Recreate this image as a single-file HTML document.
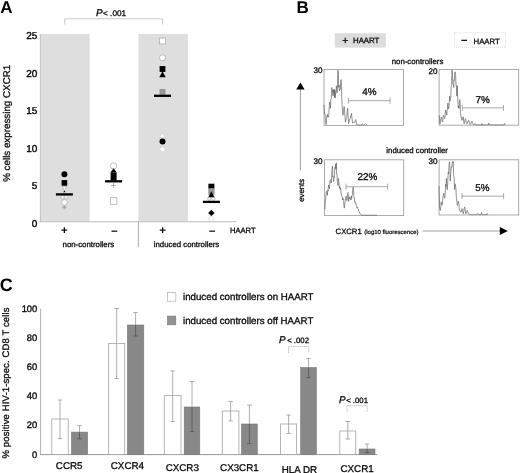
<!DOCTYPE html>
<html><head><meta charset="utf-8"><title>Figure</title>
<style>
html,body{margin:0;padding:0;background:#fff;}
body{width:520px;height:473px;overflow:hidden;}
svg{display:block;}
text{font-family:"Liberation Sans",Arial,Helvetica,sans-serif;fill:#0a0a0a;stroke:#0a0a0a;stroke-width:0.22px;text-rendering:geometricPrecision;}
.b{font-weight:bold;font-size:17px;fill:#000;stroke:none}
.t10{font-size:9.8px;stroke-width:0.3px}
.tk{font-size:10px;stroke-width:0.4px}
.t8{font-size:7.8px;stroke-width:0.3px}
.t75{font-size:8.1px;stroke-width:0.3px}
.t6{font-size:6px}
.pc{font-size:9.9px;stroke-width:0.3px}
.mk{stroke:#a8a8a8;stroke-width:0.7;fill:#fff}
.mk2{stroke:#c4c4c4;stroke-width:0.6;fill:#fff}
.fk{fill:#000}
.gk{fill:#999;stroke:#888;stroke-width:0.5}
.bar{stroke:#000;stroke-width:2.3}
.box{fill:none;stroke:#9c9c9c;stroke-width:0.85}
.hist{fill:none;stroke:#626262;stroke-width:0.68;stroke-linejoin:round}
.gate{stroke:#8c8c8c;stroke-width:0.75;fill:none}
.eb{stroke:#999;stroke-width:0.8;fill:none}
.ebd{stroke:#555;stroke-width:0.8;fill:none}
.wb{fill:#fff;stroke:#a4a4a4;stroke-width:0.8}
.gb{fill:#888;stroke:#777;stroke-width:0.6}
</style></head><body>
<svg width="520" height="473" viewBox="0 0 520 473">
<rect width="520" height="473" fill="#fff"/>

<g id="panelA">
<text class="b" x="0.3" y="12.7">A</text>
<rect x="40.5" y="33.9" width="49.1" height="187.2" fill="#dedede"/>
<rect x="138.5" y="33.9" width="49.3" height="187.2" fill="#dedede"/>
<line x1="40.4" y1="34" x2="40.4" y2="222.3" stroke="#bcbcbc" stroke-width="0.9"/>
<line x1="38.6" y1="221.8" x2="236.5" y2="221.8" stroke="#bbb" stroke-width="1.1"/>
<line x1="138.4" y1="222" x2="138.4" y2="247" stroke="#999" stroke-width="0.8"/>
<text class="tk" x="37.4" y="226.8" text-anchor="end">0</text>
<text class="tk" x="37.4" y="189.3" text-anchor="end">5</text>
<text class="tk" x="37.4" y="151.8" text-anchor="end">10</text>
<text class="tk" x="37.4" y="114.3" text-anchor="end">15</text>
<text class="tk" x="37.4" y="76.8" text-anchor="end">20</text>
<text class="tk" x="37.4" y="39.3" text-anchor="end">25</text>
<text class="t10" transform="translate(9.8,123.3) rotate(-90)" text-anchor="middle">% cells expressing CXCR1</text>
<polyline points="64.7,24.5 64.7,18.8 162.6,18.8 162.6,24.5" fill="none" stroke="#cacaca" stroke-width="1"/>
<text x="96" y="15.9" class="t10"><tspan font-style="italic" font-size="9.8px">P</tspan><tspan font-size="8.2px" dx="0.5">&lt; .001</tspan></text>
<path d="M62.0,207.2H66.8M64.4,204.8V209.6M62.7,205.5L66.1,208.9M62.7,208.9L66.1,205.5" stroke="#999" stroke-width="0.6" fill="none"/>
<circle class="mk" cx="62.6" cy="197.2" r="1.7"/>
<circle class="mk" cx="66.2" cy="197.2" r="1.7"/>
<circle class="mk" cx="64.4" cy="202.5" r="2.8"/>
<polygon class="mk" points="64.4,190.9 66.7,186.7 62.1,186.7"/>
<polygon class="fk" points="64.4,190.5 65.5,192.3 63.3,192.3"/>
<circle class="fk" cx="64.4" cy="174.2" r="3.0"/>
<rect class="fk" x="61.6" y="180.1" width="5.6" height="5.6"/>
<line class="bar" x1="55.9" y1="194.4" x2="72.9" y2="194.4"/>
<rect class="mk" x="110.3" y="197.7" width="6.6" height="6.6"/>
<path d="M111.0,185.4H116.2M113.6,182.8V188.0" stroke="#999" stroke-width="0.8" fill="none"/>
<circle class="mk" cx="113.6" cy="165.9" r="3.1"/>
<polygon class="fk" points="113.6,168.2 116.69999999999999,172.6 110.5,172.6"/>
<rect class="fk" x="110.6" y="172.4" width="6" height="8"/>
<line class="bar" x1="105.1" y1="181.3" x2="122.1" y2="181.3"/>
<rect class="mk" x="159.6" y="38.1" width="5.8" height="5.8"/>
<circle class="mk" cx="162.5" cy="57.8" r="3.0"/>
<rect class="fk" x="159.6" y="66.1" width="5.8" height="5.8"/>
<polygon class="fk" points="162.5,71.3 165.7,77.3 159.3,77.3"/>
<rect class="gk" x="159.9" y="89.2" width="5.2" height="5.2"/>
<line class="bar" x1="154.0" y1="95.8" x2="171.0" y2="95.8"/>
<polygon class="mk2" points="162.5,132.6 165.3,137.8 159.7,137.8"/>
<polygon class="mk2" points="162.5,146.2 165.6,149.3 162.5,152.4 159.4,149.3"/>
<circle class="fk" cx="162.5" cy="141.4" r="3.0"/>
<polygon class="mk2" points="211.4,215.8 214.5,218.9 211.4,222.0 208.3,218.9"/>
<circle class="mk" cx="209.4" cy="198.6" r="1.8"/>
<circle class="mk" cx="213.4" cy="198.6" r="1.8"/>
<rect class="fk" x="208.4" y="183.7" width="6" height="5"/>
<rect class="gk" x="208.6" y="188.6" width="5.6" height="6"/>
<polygon class="fk" points="211.4,191.2 214.5,197.2 208.3,197.2"/>
<line class="bar" x1="202.9" y1="201.9" x2="219.9" y2="201.9"/>
<polygon class="fk" points="211.4,209.7 214.6,212.9 211.4,216.1 208.2,212.9"/>
<text x="64.4" y="234.3" text-anchor="middle" font-size="11.5px" font-weight="bold" style="stroke:none">+</text>
<text x="114.4" y="235.0" text-anchor="middle" font-size="11.5px" font-weight="bold" style="stroke:none">−</text>
<text x="162.5" y="234.3" text-anchor="middle" font-size="11.5px" font-weight="bold" style="stroke:none">+</text>
<text x="212.1" y="235.0" text-anchor="middle" font-size="11.5px" font-weight="bold" style="stroke:none">−</text>
<text class="t8" x="230" y="232.8" textLength="25.6" lengthAdjust="spacingAndGlyphs">HAART</text>
<text class="t8" x="88.4" y="246.6" text-anchor="middle">non-controllers</text>
<text class="t8" x="186.5" y="247.4" text-anchor="middle">induced controllers</text>
</g>
<g id="panelB">
<text class="b" x="296.6" y="12.8">B</text>
<rect x="334.8" y="33.2" width="51" height="14.4" fill="#dcdcdc"/>
<text x="342.3" y="44" font-size="10.5px" style="stroke-width:0.35px">+</text>
<text class="t8" x="353" y="43.4">HAART</text>
<rect x="454.6" y="32.8" width="50.8" height="14.6" fill="#fff" stroke="#c8c8c8" stroke-width="0.7" stroke-dasharray="1 1"/>
<text x="461" y="43.8" font-size="11px" style="stroke-width:0.35px">−</text>
<text class="t8" x="473.5" y="43.5">HAART</text>
<text class="t8" x="417.5" y="63.5" text-anchor="middle">non-controllers</text>
<text class="t8" x="417.1" y="152.5" text-anchor="middle">induced controller</text>
<line x1="300.4" y1="88" x2="300.4" y2="170.4" stroke="#888" stroke-width="0.8"/>
<polygon points="300.4,82.6 304.6,89.4 296.2,89.4" fill="#000"/>
<text class="t8" transform="translate(303.6,190.3) rotate(-90)" text-anchor="middle">events</text>
<rect class="box" x="324" y="69.4" width="79.5" height="56"/>
<rect class="box" x="439.1" y="69.5" width="79.6" height="55.7"/>
<rect class="box" x="324.4" y="159.8" width="79.3" height="55.8"/>
<rect class="box" x="439.1" y="159.8" width="79.6" height="55.2"/>
<polyline class="hist" points="323.8,104.8 324.2,107.2 324.6,113.5 324.9,113.3 325.3,118.5 325.7,121.0 326.1,124.7 326.5,119.4 326.9,115.2 327.4,114.4 327.8,117.3 328.2,116.1 328.7,116.9 329.1,109.0 329.5,102.2 329.9,102.3 330.4,108.3 330.8,99.1 331.3,98.7 331.8,87.5 332.2,91.6 332.6,90.2 333.0,96.1 333.4,89.7 333.8,93.7 334.2,89.2 334.5,97.5 334.9,90.3 335.2,97.9 335.6,92.6 336.0,91.1 336.4,85.8 336.9,93.1 337.3,92.7 337.8,70.2 338.3,71.3 338.7,87.5 339.1,84.9 339.5,91.0 339.9,89.2 340.3,89.6 340.7,81.3 341.1,79.7 341.5,85.7 341.8,99.1 342.1,104.8 342.6,111.5 343.0,115.2 343.4,113.1 343.8,108.4 344.2,106.5 344.6,110.9 345.0,117.7 345.4,122.1 345.9,120.7 346.4,118.4 346.8,116.9 347.2,110.7 347.7,108.3 348.1,115.0 348.5,123.8 349.0,122.2 349.4,121.5 349.8,119.0 350.3,118.6 350.7,115.7 351.1,115.7 351.5,113.4 351.8,117.3 352.2,119.1 352.5,123.0 352.9,122.5 353.4,123.0 353.8,122.2 354.2,122.7 354.6,122.1 355.0,121.7 355.4,120.0 355.8,119.5 356.2,121.7 356.7,124.7 357.1,124.7 357.5,124.8 357.9,124.8 358.3,124.9 358.7,124.9 359.1,125.0 359.5,125.0 359.9,125.0 360.3,125.0 360.7,125.0 361.1,125.0 361.5,125.0 362.0,124.4 362.4,123.8 362.8,124.5 363.3,125.0 363.7,125.0 364.1,124.8 364.6,124.4 365.0,124.4 365.4,124.0 365.8,123.8 366.3,124.2 366.7,124.8 367.1,125.2"/>
<polyline class="hist" points="439.0,115.2 439.3,116.9 439.7,121.6 440.0,123.8 440.4,121.7 440.8,118.9 441.2,116.9 441.6,117.6 442.1,121.0 442.5,122.1 442.8,120.5 443.1,116.9 443.5,115.2 443.9,115.3 444.3,118.4 444.7,118.6 445.1,115.6 445.6,110.0 446.0,112.5 446.4,112.3 446.8,115.2 447.1,109.9 447.5,109.6 447.8,103.1 448.3,109.1 448.7,108.3 449.1,106.1 449.6,96.1 450.0,101.0 450.4,99.6 450.8,96.7 451.1,87.5 451.5,84.7 451.8,75.4 452.1,70.2 452.5,75.1 452.8,84.0 453.3,84.2 453.7,87.5 454.0,79.8 454.4,80.6 454.8,72.3 455.3,71.9 455.6,74.7 456.0,85.8 456.4,85.4 456.8,96.1 457.3,85.8 457.7,98.6 458.0,104.8 458.4,108.2 458.7,105.8 459.1,108.3 459.4,103.1 459.8,99.6 460.1,103.1 460.4,110.8 460.8,115.2 461.2,117.8 461.6,117.5 462.0,120.4 462.4,118.4 462.8,118.5 463.2,116.9 463.7,121.1 464.1,123.8 464.5,122.5 465.0,119.7 465.5,118.6 465.9,119.6 466.3,122.5 466.7,123.8 467.1,123.5 467.4,122.5 467.8,122.6 468.2,120.9 468.6,121.2 468.9,120.4 469.3,122.3 469.7,123.0 470.1,124.7 470.5,123.9 470.9,123.5 471.3,122.4 471.7,122.4 472.0,121.2 472.4,122.7 472.8,123.3 473.3,124.7 473.7,124.5 474.1,124.4 474.5,124.0 474.9,124.1 475.3,123.8 475.8,124.8 476.3,124.8 476.7,124.8 477.1,124.8 477.5,124.8 477.9,124.8 478.3,124.8 478.7,124.8 479.1,124.8 479.5,124.8 479.9,124.8 480.3,124.8 480.7,124.8 481.1,124.8 481.6,124.8 481.9,123.5 482.4,124.8 482.8,124.8 483.2,124.8 483.6,124.8 484.0,124.8 484.4,124.8 484.8,124.8 485.2,124.8 485.7,124.8 486.1,124.8 486.5,124.8 486.9,124.8 487.3,124.8 487.7,124.8 488.1,124.8 488.5,124.8 488.8,123.0 489.3,124.8 489.7,124.8 490.1,124.8 490.5,124.8 490.9,124.8 491.3,124.8 491.7,124.8 492.1,124.8 492.5,124.8 492.9,124.8 493.3,124.8 493.7,124.8 494.1,124.8 494.5,124.8 494.9,124.8 495.3,124.8 495.7,124.8 496.1,124.8 496.5,124.8 496.9,124.8 497.3,124.8 497.7,124.8 498.1,124.8 498.5,124.8 498.9,124.8 499.3,124.8 499.7,124.8 500.1,124.8 500.5,124.8 500.9,124.8 501.3,124.8 501.7,124.8 502.1,124.8 502.5,124.8 502.9,124.8 503.3,124.8 503.7,124.8 504.0,124.8 504.6,123.5 505.1,125.0"/>
<polyline class="hist" points="324.8,209.5 325.4,200.7 325.8,198.4 326.2,192.6 326.6,191.2 327.0,191.8 327.4,195.3 327.8,189.8 328.1,191.0 328.5,185.1 328.8,187.2 329.2,186.6 329.5,188.6 329.9,180.6 330.4,179.7 330.8,179.6 331.2,183.0 331.7,174.3 332.1,169.5 332.5,166.1 332.8,177.1 333.1,176.3 333.6,181.6 334.0,178.4 334.4,178.0 334.8,167.5 335.2,168.1 335.6,164.3 335.9,169.3 336.3,162.8 336.6,173.7 337.0,173.7 337.3,181.1 337.6,182.5 338.0,185.5 338.3,178.3 338.7,181.1 339.0,181.9 339.4,187.9 339.7,186.5 340.2,189.6 340.6,187.9 341.0,193.0 341.5,195.3 341.9,196.6 342.3,196.7 342.7,200.0 343.0,198.1 343.4,200.7 343.7,201.9 344.0,206.8 344.4,208.1 344.8,204.9 345.3,199.3 345.6,199.8 346.0,196.0 346.4,199.5 346.8,200.7 347.2,199.9 347.5,193.8 347.9,192.5 348.3,194.7 348.7,201.4 349.1,198.0 349.4,198.9 349.8,196.7 350.2,198.5 350.6,198.1 351.0,200.0 351.3,196.3 351.7,198.2 352.0,195.3 352.4,194.7 352.8,188.4 353.2,187.2 353.6,190.1 353.9,196.7 354.3,197.9 354.6,201.4 355.0,201.0 355.4,203.4 355.8,202.8 356.2,205.1 356.5,205.5 357.0,207.7 357.4,207.0 357.9,208.8 358.4,209.1 358.8,211.3 359.3,211.7 359.7,213.0 360.2,213.3 360.7,214.3 361.0,214.5 361.4,214.8 361.8,214.9 362.2,215.2 362.6,215.2 363.0,215.2 363.4,215.2 363.9,215.2 364.3,215.2 364.7,215.2 365.1,215.2 365.5,215.2 365.9,215.2 366.3,215.2 366.7,215.2 367.1,215.2 367.6,215.2 368.0,215.2 368.4,215.2 368.8,215.2 369.2,215.2 369.6,215.2 370.0,215.2 370.4,215.2 370.8,215.2 371.2,215.2 371.6,215.2 372.0,215.2 372.4,215.2 372.9,215.2 373.3,215.2 373.7,215.2 374.1,215.2 374.5,215.2 374.9,215.2 375.3,215.2 375.7,215.2 376.1,215.2 376.5,215.2 376.9,215.2"/>
<polyline class="hist" points="439.0,186.1 439.5,206.9 439.9,209.1 440.4,210.4 440.8,206.5 441.2,201.7 441.7,204.5 442.1,205.2 442.5,201.7 443.0,196.5 443.4,195.7 443.8,193.1 444.3,197.5 444.7,198.3 445.1,195.3 445.6,184.4 446.0,186.4 446.4,178.4 446.9,188.5 447.3,189.6 447.7,183.3 448.2,172.3 448.6,174.0 449.0,165.4 449.6,161.9 449.9,168.1 450.2,181.0 450.7,173.4 451.1,170.6 451.5,166.5 452.0,167.1 452.4,161.6 452.8,162.8 453.3,161.6 453.7,175.8 454.1,177.7 454.6,189.6 455.0,183.8 455.4,186.1 455.9,187.8 456.3,196.5 456.6,198.4 457.0,203.3 457.3,205.2 457.7,205.4 458.1,201.2 458.5,201.7 459.0,204.6 459.4,210.4 459.8,210.1 460.3,211.4 460.7,211.3 461.1,212.1 461.6,209.8 462.0,208.6 462.4,209.9 462.8,212.3 463.2,213.8 463.7,211.9 464.1,208.9 464.6,206.9 465.0,208.3 465.4,212.0 465.8,213.8 466.3,212.9 466.7,211.3 467.2,210.4 467.6,211.0 468.0,212.9 468.4,213.8 468.8,214.2 469.3,214.2 469.7,214.5 470.1,214.6 470.5,214.6 471.0,214.6 471.4,214.6 471.8,214.6 472.2,214.6 472.6,214.6 473.0,214.6 473.4,214.6 473.8,214.6 474.2,214.6 474.7,214.6 475.1,214.6 475.5,214.6 475.9,214.6 476.3,214.6 476.7,214.6 477.1,214.2 477.6,213.5 478.0,214.1 478.4,214.6 478.9,214.6 479.3,214.6 479.7,214.6 480.2,214.6 480.6,214.6 481.0,214.6 481.6,212.4 481.9,213.4 482.2,214.6 482.7,214.6 483.1,214.6 483.5,214.6 483.9,214.6 484.3,214.6 484.7,214.6 485.1,214.6 485.5,214.6 485.9,214.6 486.3,214.6 486.7,214.6 487.3,213.5 487.8,214.7"/>
<text class="t75" x="322.4" y="73.2" text-anchor="end">30</text>
<text class="t75" x="437.5" y="73.5" text-anchor="end">20</text>
<text class="t75" x="322.4" y="164" text-anchor="end">30</text>
<text class="t75" x="437.5" y="164" text-anchor="end">30</text>
<path class="gate" d="M348.3,100.7H390M348.3,97.7V103.7M390,97.7V103.7"/>
<text class="pc" x="369.3" y="94.8" text-anchor="middle">4%</text>
<path class="gate" d="M462.3,107.9H503.4M462.3,104.9V110.9M503.4,104.9V110.9"/>
<text class="pc" x="482.7" y="102.7" text-anchor="middle">7%</text>
<path class="gate" d="M346,186.7H387.6M346,183.7V189.7M387.6,183.7V189.7"/>
<text class="pc" x="367.4" y="180.4" text-anchor="middle">22%</text>
<path class="gate" d="M462,196.2H503.6M462,193.2V199.2M503.6,193.2V199.2"/>
<text class="pc" x="482.3" y="191" text-anchor="middle">5%</text>
<text x="335.6" y="234.3"><tspan font-size="7.7px" style="stroke-width:0.3px">CXCR1</tspan><tspan font-size="6px" dx="2.6">(log10 fluorescence)</tspan></text>
<line x1="422.5" y1="231" x2="501" y2="231" stroke="#888" stroke-width="0.8"/>
<polygon points="507.8,231 499.8,227 499.8,235" fill="#000"/>
</g>
<g id="panelC">
<text class="b" x="-0.3" y="290.8" style="font-size:18px">C</text>
<line x1="40.6" y1="308.5" x2="40.6" y2="454.8" stroke="#aaa" stroke-width="0.9"/>
<line x1="40.2" y1="454.6" x2="377.5" y2="454.6" stroke="#999" stroke-width="1"/>
<text class="tk" style="font-size:9.4px;stroke-width:0.35px" x="37.3" y="457.5" text-anchor="end">0</text>
<text class="tk" style="font-size:9.4px;stroke-width:0.35px" x="37.3" y="428.4" text-anchor="end">20</text>
<text class="tk" style="font-size:9.4px;stroke-width:0.35px" x="37.3" y="399.3" text-anchor="end">40</text>
<text class="tk" style="font-size:9.4px;stroke-width:0.35px" x="37.3" y="370.2" text-anchor="end">60</text>
<text class="tk" style="font-size:9.4px;stroke-width:0.35px" x="37.3" y="341.1" text-anchor="end">80</text>
<text class="tk" style="font-size:9.4px;stroke-width:0.35px" x="37.3" y="312.0" text-anchor="end">100</text>
<text class="t10" style="font-size:9.5px" transform="translate(8.6,383) rotate(-90)" text-anchor="middle" textLength="151" lengthAdjust="spacing">% positive HIV-1-spec. CD8 T cells</text>
<rect class="wb" x="51.8" y="419" width="16.4" height="35.4"/>
<rect class="gb" x="71.5" y="432.1" width="16.1" height="22.3"/>
<path class="eb" d="M60.0,400V438.6M57.8,400h4.4M57.8,438.6h4.4"/>
<path class="eb" d="M79.5,425.6V432.1M77.3,425.6h4.4"/>
<path class="ebd" d="M79.5,432.1V438.8M77.3,438.8h4.4"/>
<text class="t10" style="font-size:9.8px" x="69.2" y="469.3" text-anchor="middle">CCR5</text>
<rect class="wb" x="108.7" y="343.5" width="16.0" height="110.9"/>
<rect class="gb" x="127.4" y="325" width="16.4" height="129.4"/>
<path class="eb" d="M116.7,308.5V378.5M114.5,308.5h4.4M114.5,378.5h4.4"/>
<path class="eb" d="M135.6,312.5V325M133.4,312.5h4.4"/>
<path class="ebd" d="M135.6,325V336M133.4,336h4.4"/>
<text class="t10" style="font-size:9.8px" x="127.4" y="469.3" text-anchor="middle">CXCR4</text>
<rect class="wb" x="164.3" y="395.5" width="16.7" height="58.9"/>
<rect class="gb" x="184.2" y="407" width="15.6" height="47.4"/>
<path class="eb" d="M172.7,371V421.5M170.5,371h4.4M170.5,421.5h4.4"/>
<path class="eb" d="M192.0,381.5V407M189.8,381.5h4.4"/>
<path class="ebd" d="M192.0,407V431.5M189.8,431.5h4.4"/>
<text class="t10" style="font-size:9.8px" x="182.3" y="471.2" text-anchor="middle">CXCR3</text>
<rect class="wb" x="222.3" y="411" width="16.6" height="43.4"/>
<rect class="gb" x="241.5" y="424" width="15.8" height="30.4"/>
<path class="eb" d="M230.6,401.5V421M228.4,401.5h4.4M228.4,421h4.4"/>
<path class="eb" d="M249.4,405V424M247.2,405h4.4"/>
<path class="ebd" d="M249.4,424V443.5M247.2,443.5h4.4"/>
<text class="t10" style="font-size:9.8px" x="239.4" y="471.2" text-anchor="middle">CX3CR1</text>
<rect class="wb" x="280.6" y="424" width="16.0" height="30.4"/>
<rect class="gb" x="300.6" y="367.5" width="15.8" height="86.9"/>
<path class="eb" d="M288.6,415V433.5M286.4,415h4.4M286.4,433.5h4.4"/>
<path class="eb" d="M308.5,358.5V367.5M306.3,358.5h4.4"/>
<path class="ebd" d="M308.5,367.5V377.5M306.3,377.5h4.4"/>
<text class="t10" style="font-size:9.8px" x="299.4" y="473.4" text-anchor="middle">HLA DR</text>
<rect class="wb" x="339.8" y="431" width="15.9" height="23.4"/>
<rect class="gb" x="359.2" y="449" width="15.8" height="5.4"/>
<path class="eb" d="M347.8,421.5V439M345.6,421.5h4.4M345.6,439h4.4"/>
<path class="eb" d="M367.1,444V449M364.9,444h4.4"/>
<path class="ebd" d="M367.1,449V452.5M364.9,452.5h4.4"/>
<text class="t10" style="font-size:9.8px" x="357.1" y="471.8" text-anchor="middle">CXCR1</text>
<rect class="wb" x="167.4" y="292.5" width="8.4" height="8.7" style="stroke:#b8b8b8"/>
<rect class="gb" x="167.4" y="316.1" width="8.4" height="8.7" style="fill:#939393"/>
<text class="t10" x="183" y="300.4" style="font-size:9.72px">induced controllers on HAART</text>
<text class="t10" x="183" y="324" style="font-size:9.72px">induced controllers off HAART</text>
<polyline points="288.5,353 288.5,346.5 308.8,346.5 308.8,353" fill="none" stroke="#b5b5b5" stroke-width="0.8" stroke-dasharray="1.5 0.7"/>
<text x="279" y="343.3" class="t10"><tspan font-style="italic" font-size="9.8px">P</tspan><tspan font-size="7.8px" dx="1.6">&lt; .002</tspan></text>
<polyline points="347,412 347,405.6 367.2,405.6 367.2,412" fill="none" stroke="#b5b5b5" stroke-width="0.8" stroke-dasharray="1.5 0.7"/>
<text x="339" y="402.8" class="t10"><tspan font-style="italic" font-size="9.8px">P</tspan><tspan font-size="7.8px" dx="0.6">&lt; .001</tspan></text>
</g>
</svg></body></html>
